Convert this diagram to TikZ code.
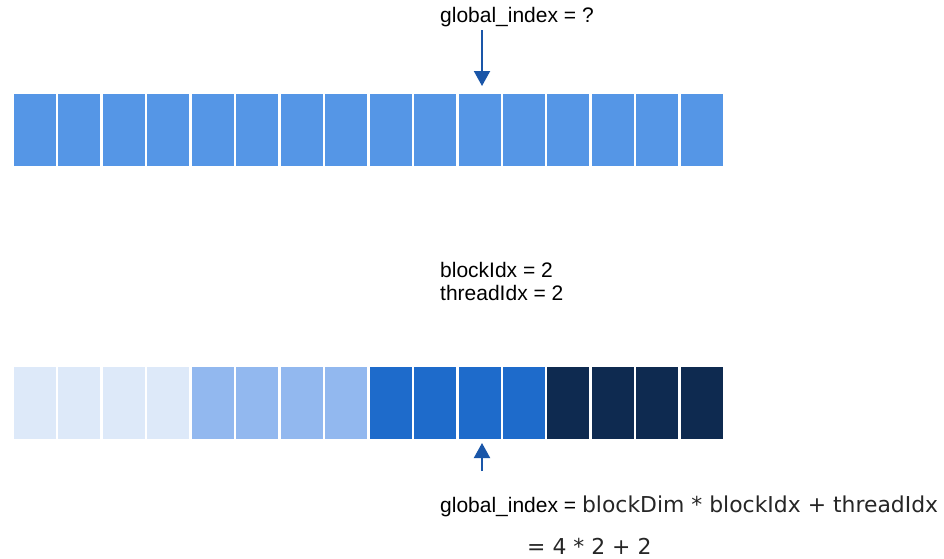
\documentclass[tikz,border=0pt]{standalone}
\usepackage{fontspec}
\setmainfont{Liberation Sans}
\newfontfamily\lightfont{DejaVu Sans}
\usetikzlibrary{arrows.meta}
\definecolor{topc}{HTML}{5596E6}
\definecolor{ca}{HTML}{DDE9F9}
\definecolor{cb}{HTML}{92B8EF}
\definecolor{cc}{HTML}{1E6BCB}
\definecolor{cd}{HTML}{0E2A50}
\definecolor{arrc}{HTML}{1A56A8}
\tikzset{
  cell/.style={rectangle, inner sep=0pt, minimum width=42pt, minimum height=72pt, draw=none},
  lbl/.style={anchor=base west, inner sep=0pt, font=\fontsize{21}{24}\selectfont},
  ptr/.style={draw=arrc, line width=2pt, -{Triangle[length=15pt,width=16pt]}}
}
\begin{document}
\begin{tikzpicture}[x=1pt,y=-1pt]
\useasboundingbox (0,0) rectangle (944,558);
% top row
\foreach \i in {0,...,15}{
  \node[cell, fill=topc] (t\i) at ({14+44.45*\i+21},130) {};
}
% bottom row
\foreach \i/\c in {0/ca,1/ca,2/ca,3/ca,4/cb,5/cb,6/cb,7/cb,8/cc,9/cc,10/cc,11/cc,12/cd,13/cd,14/cd,15/cd}{
  \node[cell, fill=\c] (b\i) at ({14+44.45*\i+21},402.5) {};
}
% labels
\node[lbl] (q) at (440,22) {global\_index = ?};
\node[lbl] (bi) at (440,277) {blockIdx = 2};
\node[lbl] (ti) at (440,300) {threadIdx = 2};
\node[lbl] (f1) at (440,512) {global\_index = {\lightfont\color{black!85}\fontsize{21.9}{24}\selectfont blockDim * blockIdx + threadIdx}};
\node[lbl] (f2) at (527,554) {\lightfont\color{black!85}\fontsize{21.9}{24}\selectfont = 4 * 2 + 2};
% arrows
\coordinate (a1s) at (482,30);
\coordinate (a1e) at (482,86);
\coordinate (a2s) at (482,471);
\coordinate (a2e) at (482,443);
\draw[ptr] (a1s) -- (a1e);
\draw[ptr] (a2s) -- (a2e);
\end{tikzpicture}
\end{document}
